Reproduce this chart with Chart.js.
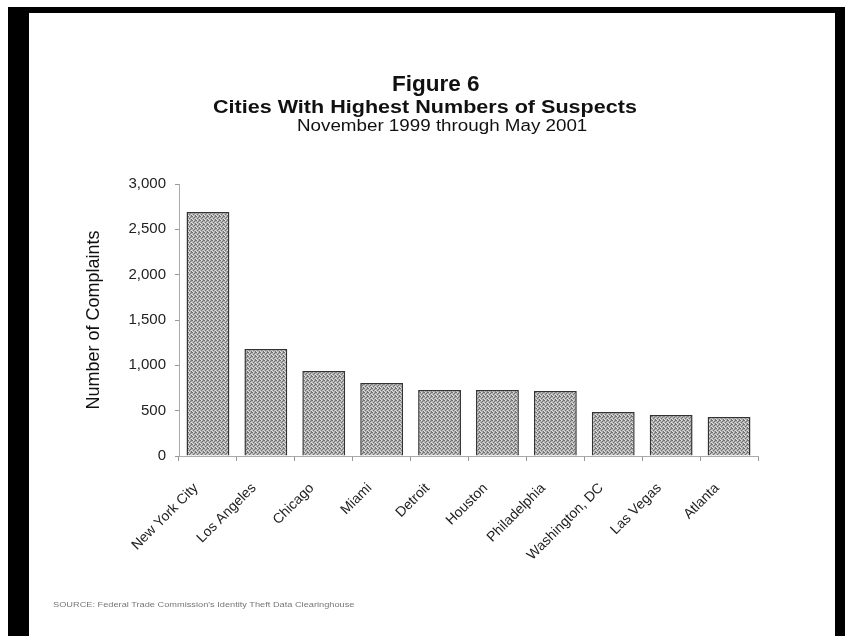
<!DOCTYPE html>
<html>
<head>
<meta charset="utf-8">
<script src="https://cdn.jsdelivr.net/npm/chart.js@4.4.0/dist/chart.umd.min.js"></script>
<style>
  html, body { margin: 0; padding: 0; background: #fff; }
  body { width: 845px; height: 636px; position: relative; overflow: hidden; font-family: 'Liberation Sans', Arial, Helvetica, sans-serif; }
  #frame { position: absolute; left: 8px; top: 7px; width: 837px; height: 640px; background: #000; }
  #paper { position: absolute; left: 29px; top: 13px; width: 806px; height: 640px; background: #fff; }
  .txt { position: absolute; white-space: nowrap; color: #111; line-height: 1; transform-origin: 0 0; }
  #chartBox { position: absolute; left: 0; top: 0; width: 845px; height: 636px; }
</style>
</head>
<body>
<div id="frame"></div>
<div id="paper"></div>
<div id="chartBox"><canvas id="chart" width="845" height="636"></canvas></div>

<script>
// Figure 6 - cities with highest numbers of suspects (bar chart)
const cities = ['New York City', 'Los Angeles', 'Chicago', 'Miami', 'Detroit', 'Houston',
  'Philadelphia', 'Washington, DC', 'Las Vegas', 'Atlanta'];
const complaints = [2690, 1180, 937, 805, 728, 728, 717, 485, 452, 430];
const yTicks = [0, 500, 1000, 1500, 2000, 2500, 3000];

const titleLines = ['Figure 6', 'Cities With Highest Numbers of Suspects', 'November 1999 through May 2001'];
const sourceNote = "SOURCE: Federal Trade Commission's Identity Theft Data Clearinghouse";

const FONT = "'Liberation Sans', Arial, Helvetica, sans-serif";

// text placed over the page, stretched to match the scanned widths
function addText(str, cx, left, top, size, weight, width, color) {
  const d = document.createElement('div');
  d.className = 'txt';
  d.textContent = str;
  d.style.fontSize = size + 'px';
  d.style.fontWeight = weight;
  if (color) d.style.color = color;
  document.body.appendChild(d);
  const w = d.offsetWidth;
  const k = width / w;
  const x = cx !== null ? cx - width / 2 : left;
  d.style.left = x + 'px';
  d.style.top = top + 'px';
  d.style.transform = 'scaleX(' + k + ')';
}

addText(titleLines[0], 436, null, 73, 22, 'bold', 88);
addText(titleLines[1], 425, null, 98, 18, 'bold', 424);
addText(titleLines[2], 442, null, 118, 16, 'normal', 290);
addText(sourceNote, null, 53, 601, 8, 'normal', 302, '#777');

// speckled grey fill like the scanned bars
function stipple() {
  const c = document.createElement('canvas');
  c.width = 4; c.height = 4;
  const g = c.getContext('2d');
  g.fillStyle = '#b4b4b4';
  g.fillRect(0, 0, 4, 4);
  g.fillStyle = '#707070';
  [[0, 0], [2, 1], [1, 2], [3, 3], [3, 0]].forEach(p => g.fillRect(p[0], p[1], 1, 1));
  g.fillStyle = '#e0e0e0';
  [[1, 0], [3, 2], [0, 3]].forEach(p => g.fillRect(p[0], p[1], 1, 1));
  return g.createPattern(c, 'repeat');
}

const ctx = document.getElementById('chart').getContext('2d');
new Chart(ctx, {
  type: 'bar',
  data: {
    labels: cities,
    datasets: [{
      data: complaints,
      backgroundColor: stipple(),
      borderColor: '#333',
      borderWidth: 1.5,
      barPercentage: 0.74,
      categoryPercentage: 1.0
    }]
  },
  options: {
    responsive: false,
    animation: false,
    layout: { padding: { left: 80, right: 87, top: 184, bottom: 60 } },
    plugins: {
      legend: { display: false },
      tooltip: { enabled: false }
    },
    scales: {
      x: {
        afterFit: function(s) { s.height = 120; },
        grid: { drawOnChartArea: false, drawTicks: true, tickLength: 5, color: '#999', offset: true },
        border: { display: true, color: '#aaa', dash: [2, 2] },
        ticks: {
          autoSkip: false, minRotation: 45, maxRotation: 45, padding: 19, labelOffset: -12,
          color: '#222', font: { family: FONT, size: 14 }
        }
      },
      y: {
        min: 0,
        max: 3000,
        afterFit: function(s) { s.width = 99; },
        afterBuildTicks: function(s) { s.ticks = yTicks.map(v => ({ value: v })); },
        grid: { drawOnChartArea: false, drawTicks: true, tickLength: 4, color: '#999' },
        border: { display: true, color: '#aaa', dash: [2, 2] },
        ticks: {
          padding: 9, color: '#222', font: { family: FONT, size: 15 },
          callback: v => v.toLocaleString('en-US')
        },
        title: {
          display: true, text: 'Number of Complaints', color: '#111',
          font: { family: FONT, size: 18 }, padding: { top: 3, bottom: 4 }
        }
      }
    }
  }
});
</script>
</body>
</html>
